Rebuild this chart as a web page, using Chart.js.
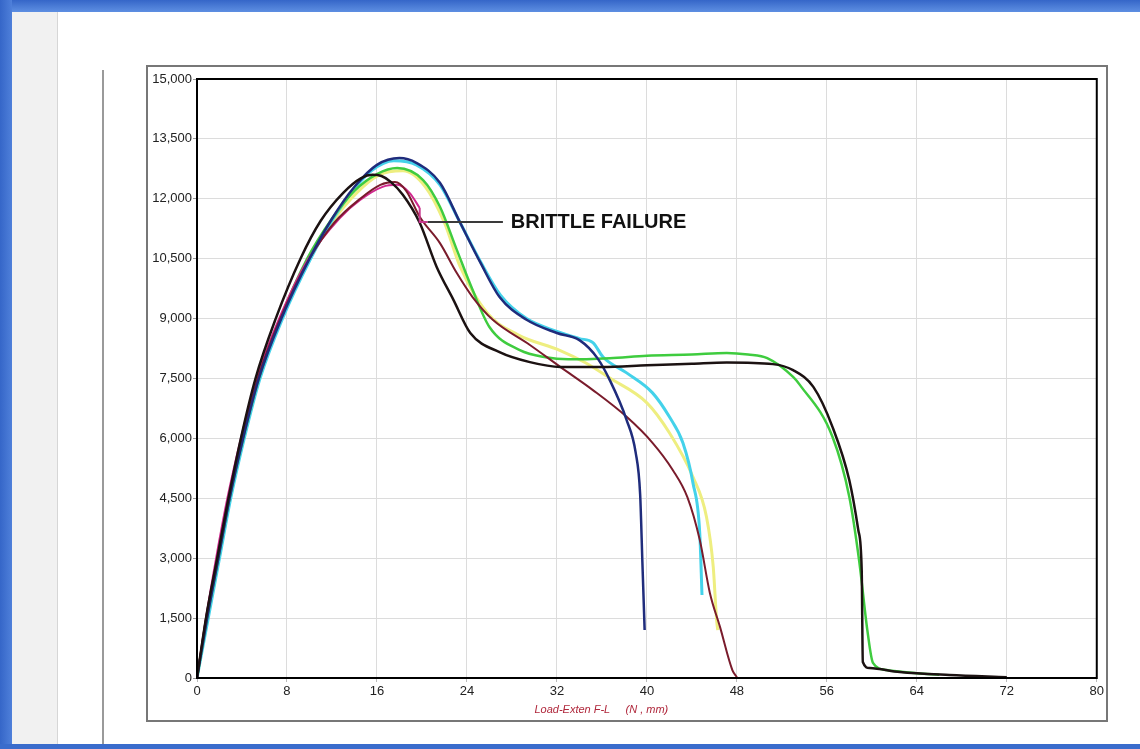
<!DOCTYPE html>
<html lang="en">
<head>
<meta charset="UTF-8" />
<title>Load-Exten F-L</title>
<script src="https://cdn.jsdelivr.net/npm/chart.js@4.4.1/dist/chart.umd.min.js"></script>
<style>
  body { margin: 0; width: 1140px; height: 749px; background: #fff; position: relative; overflow: hidden; }
  #topbar { position: absolute; left: 0; top: 0; width: 1140px; height: 12px; background: linear-gradient(#3566c8, #5e8fe2); }
  #leftbar { position: absolute; left: 0; top: 0; width: 12px; height: 749px; background: linear-gradient(90deg, #3566c8, #4f80da); }
  #bottombar { position: absolute; left: 0; top: 744px; width: 1140px; height: 5px; background: #3a6ccc; }
  #panel { position: absolute; left: 12px; top: 12px; width: 45px; height: 732px; background: #f1f1f1; border-right: 1px solid #d6d6d6; }
  #divider { position: absolute; left: 102px; top: 70px; width: 2px; height: 674px; background: #9a9a9a; }
  #box { position: absolute; left: 146px; top: 65px; width: 962px; height: 657px; border: 2px solid #777; box-sizing: border-box; }
  #box canvas { position: absolute; left: 0; top: 0; }
</style>
</head>
<body>
<div id="topbar"></div>
<div id="leftbar"></div>
<div id="bottombar"></div>
<div id="panel"></div>
<div id="divider"></div>
<div id="box"><canvas id="Graph" width="958" height="653"></canvas></div>

<script>
  // extension (mm) / load (N) per specimen
  const blackExt  = [0, 0.8, 1.8, 2.8, 3.9, 5.2, 7.0, 9.2, 11.0, 13.0, 14.6, 15.6, 16.4, 17.2, 18.3, 19.8, 21.3, 22.8, 24.3, 26.9, 29.6, 32.3, 36, 40, 44, 47.1, 51.2, 53.0, 54.8, 56.5, 58.0, 58.8, 59.1, 59.2, 59.8, 62.5, 66.9, 72];
  const blackLoad = [0, 1500, 3000, 4500, 6000, 7500, 9000, 10500, 11450, 12150, 12520, 12600, 12570, 12430, 12100, 11400, 10300, 9470, 8640, 8160, 7910, 7790, 7790, 7830, 7870, 7900, 7860, 7710, 7290, 6290, 4950, 3700, 2700, 400, 250, 150, 75, 20];

  const navyExt  = [0, 0.9, 1.9, 2.9, 4.1, 5.5, 7.5, 10.0, 12.0, 14.0, 16.0, 18.0, 19.5, 21.6, 23.4, 25.2, 26.9, 29.3, 32.0, 34.0, 35.6, 36.7, 38.2, 39.0, 39.4, 39.6, 39.8];
  const navyLoad = [0, 1500, 3000, 4500, 6000, 7500, 9000, 10500, 11500, 12300, 12850, 13020, 12900, 12400, 11400, 10400, 9540, 8970, 8640, 8460, 8010, 7460, 6460, 5650, 4600, 2900, 1200];

  const cyanExt  = [0, 1.0, 2.0, 3.0, 4.2, 5.6, 7.6, 10.1, 12.1, 14.0, 15.5, 17.5, 19.5, 21.6, 23.4, 25.2, 27.0, 29.3, 32.0, 34.0, 35.2, 36.1, 38.2, 40.5, 42.0, 43.2, 44.1, 44.7, 44.9];
  const cyanLoad = [0, 1500, 3000, 4500, 6000, 7500, 9000, 10500, 11500, 12250, 12700, 12950, 12850, 12350, 11400, 10430, 9580, 9000, 8680, 8500, 8400, 8040, 7640, 7140, 6540, 5890, 4880, 3630, 2080];

  const greenExt  = [0, 0.9, 1.9, 2.9, 4.1, 5.5, 7.4, 9.8, 12.0, 14.0, 16.0, 17.8, 20.1, 21.6, 23.1, 24.5, 26.0, 28.7, 31.0, 33.0, 36.7, 40, 44, 47.1, 49, 50.7, 53.0, 53.6, 56.5, 58.0, 58.9, 59.6, 60.1, 61.3, 64, 66];
  const greenLoad = [0, 1500, 3000, 4500, 6000, 7500, 9000, 10500, 11500, 12200, 12620, 12770, 12470, 11800, 10720, 9720, 8790, 8210, 8030, 7980, 8010, 8070, 8100, 8140, 8100, 8010, 7540, 7340, 6040, 4530, 2880, 1200, 380, 200, 120, 80];

  const yellowExt  = [0, 0.9, 1.9, 2.9, 4.1, 5.5, 7.5, 10.0, 12.1, 14.2, 16.2, 18.3, 20.3, 22.0, 23.4, 25.8, 28.5, 32.3, 34.5, 36.7, 40.0, 42.0, 44.1, 45.3, 45.9, 46.2, 46.3];
  const yellowLoad = [0, 1500, 3000, 4500, 6000, 7500, 9000, 10500, 11450, 12150, 12600, 12700, 12300, 11400, 10300, 9140, 8600, 8200, 7900, 7510, 6890, 6140, 5030, 4030, 2780, 1450, 1200];

  const maroonExt  = [0, 0.8, 1.8, 2.8, 4.0, 5.4, 7.4, 10.0, 12.2, 14.5, 16.3, 17.6, 18.6, 19.8, 21.6, 23.1, 24.5, 26.3, 29.6, 32.3, 35.2, 38.2, 40.5, 42.3, 43.6, 44.7, 45.6, 46.5, 47.6, 48.0];
  const maroonLoad = [0, 1500, 3000, 4500, 6000, 7500, 9000, 10500, 11400, 12000, 12350, 12420, 12200, 11550, 10890, 10140, 9540, 8970, 8340, 7790, 7210, 6540, 5890, 5210, 4530, 3460, 2130, 1280, 200, 20];

  const magentaExt  = [0, 0.8, 1.7, 2.7, 3.9, 5.3, 7.3, 9.9, 12.7, 14.5, 16.5, 17.8, 18.9, 19.8];
  const magentaLoad = [0, 1500, 3000, 4500, 6000, 7500, 9000, 10500, 11520, 11970, 12300, 12350, 12150, 11770];

  const yTicks = { min: 0, max: 15000, step: 1500 };
  const xTicks = { min: 0, max: 80, step: 8 };

  const brittle = { x: 19.8, yTop: 11770, yLine: 11420, lineEnd: 27.2, textX: 27.9, text: 'BRITTLE FAILURE' };
  const axisTitle = { x: 30.0, text: 'Load-Exten F-L     (N , mm)' };

  function pairs(xs, ys) {
    return xs.map((x, i) => ({ x: x, y: ys[i] }));
  }

  function series(xs, ys, color, width) {
    return {
      data: pairs(xs, ys),
      borderColor: color,
      borderWidth: width,
      pointRadius: 0,
      fill: false,
      cubicInterpolationMode: 'monotone'
    };
  }

  const annotate = {
    id: 'annotate',
    afterDatasetsDraw(chart) {
      const { ctx, scales, chartArea } = chart;
      const xs = scales.x, ys = scales.y;
      const bx = xs.getPixelForValue(brittle.x);
      const by1 = ys.getPixelForValue(brittle.yTop);
      const by2 = ys.getPixelForValue(brittle.yLine);
      ctx.save();
      ctx.lineWidth = 2;
      ctx.strokeStyle = '#c8388e';
      ctx.beginPath();
      ctx.moveTo(bx, by1);
      ctx.lineTo(bx, by2);
      ctx.lineTo(bx + 8, by2);
      ctx.stroke();
      ctx.strokeStyle = '#3a3a3a';
      ctx.beginPath();
      ctx.moveTo(bx + 8, by2);
      ctx.lineTo(xs.getPixelForValue(brittle.lineEnd), by2);
      ctx.stroke();
      ctx.fillStyle = '#111';
      ctx.font = 'bold 20px "Liberation Sans", Arial, sans-serif';
      ctx.textBaseline = 'middle';
      ctx.fillText(brittle.text, xs.getPixelForValue(brittle.textX), by2 + 1);

      ctx.fillStyle = '#b0283c';
      ctx.font = 'italic 11px "Liberation Sans", Arial, sans-serif';
      ctx.fillText(axisTitle.text, xs.getPixelForValue(axisTitle.x), chartArea.bottom + 32);
      ctx.restore();
    },
    afterDraw(chart) {
      const { ctx, chartArea } = chart;
      ctx.save();
      ctx.lineWidth = 2;
      ctx.strokeStyle = '#000';
      ctx.strokeRect(chartArea.left, chartArea.top, chartArea.right - chartArea.left, chartArea.bottom - chartArea.top);
      ctx.restore();
    }
  };

  const element = document.getElementById('Graph').getContext('2d');
  const Graph = new Chart(element, {
    type: 'line',
    data: {
      datasets: [
        series(blackExt, blackLoad, '#1c1212', 2.5),
        series(navyExt, navyLoad, '#1f2c7c', 2.5),
        series(maroonExt, maroonLoad, '#7a1c2c', 2),
        series(magentaExt, magentaLoad, '#d0288e', 2),
        series(greenExt, greenLoad, '#3fcc3f', 2.5),
        series(cyanExt, cyanLoad, '#44d2ea', 3),
        series(yellowExt, yellowLoad, '#eeee80', 3)
      ]
    },
    options: {
      responsive: false,
      animation: false,
      layout: { padding: { top: 12, right: 9, left: 0, bottom: 0 } },
      plugins: { legend: { display: false }, tooltip: { enabled: false } },
      scales: {
        x: {
          type: 'linear',
          min: xTicks.min,
          max: xTicks.max,
          afterFit(scale) { scale.height = 42; },
          ticks: {
            stepSize: xTicks.step,
            color: '#222',
            padding: 2,
            maxRotation: 0,
            font: { family: '"Liberation Sans", Arial, sans-serif', size: 13 }
          },
          grid: { color: '#dcdcdc', tickLength: 4, tickColor: '#bbb' },
          border: { display: true, color: '#000', width: 2 }
        },
        y: {
          min: yTicks.min,
          max: yTicks.max,
          afterFit(scale) { scale.width = 49; },
          ticks: {
            stepSize: yTicks.step,
            color: '#222',
            padding: 1,
            font: { family: '"Liberation Sans", Arial, sans-serif', size: 13 },
            callback: v => v.toLocaleString('en-US')
          },
          grid: { color: '#dcdcdc', tickLength: 4, tickColor: '#999' },
          border: { display: true, color: '#000', width: 2 }
        }
      }
    },
    plugins: [annotate]
  });
</script>
</body>
</html>
